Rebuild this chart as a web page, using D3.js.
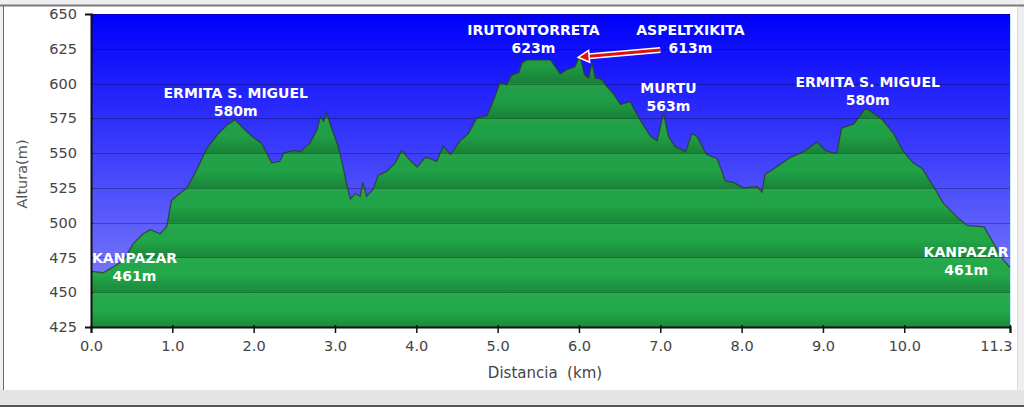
<!DOCTYPE html>
<html>
<head>
<meta charset="utf-8">
<script src="https://cdn.jsdelivr.net/npm/d3@7"></script>
<style>
  html, body { margin: 0; padding: 0; background: #efefef; }
  svg { display: block; }
</style>
</head>
<body>
<svg id="chart" width="1024" height="407"></svg>
<script>
// ---- data ----
const distKm = [0.00,0.01,0.15,0.27,0.40,0.52,0.64,0.73,0.85,0.93,0.99,1.05,1.18,1.30,1.42,1.55,1.67,1.77,1.87,1.98,
  2.10,2.22,2.32,2.37,2.49,2.57,2.69,2.78,2.82,2.86,2.90,2.94,3.04,3.10,3.15,3.19,3.25,3.31,3.34,3.39,
  3.47,3.53,3.64,3.74,3.82,3.92,4.01,4.11,4.17,4.25,4.33,4.42,4.54,4.64,4.74,4.87,4.95,5.03,5.11,5.17,
  5.26,5.30,5.36,5.65,5.77,5.85,5.95,6.01,6.07,6.12,6.16,6.20,6.28,6.34,6.42,6.51,6.63,6.75,6.88,6.96,
  7.04,7.10,7.18,7.31,7.39,7.45,7.57,7.70,7.80,7.90,8.02,8.19,8.25,8.29,8.35,8.45,8.60,8.76,8.93,9.03,
  9.13,9.17,9.23,9.38,9.52,9.59,9.73,9.87,9.99,10.11,10.22,10.36,10.48,10.65,10.77,10.98,11.10,11.22,11.30];
const elevM = [465,465,464,468,473,485,492,495,492,497,516,519,525,538,553,563,570,574,568,562,
  557,543,544,550,552,551,557,567,576,573,579,571,555,540,526,517,521,519,529,519,
  524,534,537,543,552,545,540,547,546,544,555,549,559,564,575,577,588,601,599,606,
  608,615,617,617,607,610,612,620,606,604,615,604,603,598,593,585,587,574,562,559,
  579,562,555,551,564,562,549,546,530,529,525,526,522,535,537,541,547,551,558,552,
  550,550,568,571,582,580,574,564,551,543,539,526,514,504,498,497,485,473,468];

const yTicks = [425,450,475,500,525,550,575,600,625,650];
const xTicks = [0,1,2,3,4,5,6,7,8,9,10,11.3];
const xTickLabels = ["0.0","1.0","2.0","3.0","4.0","5.0","6.0","7.0","8.0","9.0","10.0","11.3"];

const placeNames  = ["KANPAZAR","ERMITA S. MIGUEL","IRUTONTORRETA","ASPELTXIKITA","MURTU","ERMITA S. MIGUEL","KANPAZAR"];
const placeHeights = ["461m","580m","623m","613m","563m","580m","461m"];
const placeKm  = [0.535,1.78,5.44,7.37,7.10,9.55,10.76];
const placeAlt = [471,589.6,634.9,634.9,593.4,597.5,475.3];

const arrowFrom = [7.00,624.1];
const arrowTo   = [5.99,618.9];

const xTitle = "Distancia  (km)";
const yTitle = "Altura(m)";

// ---- layout ----
const L = 91, R = 1010, T = 14, B = 327;
const svg = d3.select("#chart");
const x = d3.scaleLinear().domain([0, 11.3]).range([L, R]);
const y = d3.scaleLinear().domain([425, 650]).range([B, T]);

const defs = svg.append("defs");
const sky = defs.append("linearGradient").attr("id","sky").attr("x1",0).attr("y1",0).attr("x2",0).attr("y2",1);
sky.append("stop").attr("offset","0%").attr("stop-color","#0000fc");
sky.append("stop").attr("offset","100%").attr("stop-color","#8a8cf8");
const grass = defs.append("linearGradient").attr("id","grass").attr("gradientUnits","userSpaceOnUse")
  .attr("x1",0).attr("y1",T).attr("x2",0).attr("y2",B);
grass.append("stop").attr("offset","0%").attr("stop-color","#1e9a42");
grass.append("stop").attr("offset","100%").attr("stop-color","#23ab4b");
const band = defs.append("linearGradient").attr("id","band").attr("x1",0).attr("y1",0).attr("x2",0).attr("y2",1);
band.append("stop").attr("offset","0%").attr("stop-color","#fff").attr("stop-opacity",0.03);
band.append("stop").attr("offset","50%").attr("stop-color","#000").attr("stop-opacity",0.0);
band.append("stop").attr("offset","100%").attr("stop-color","#000").attr("stop-opacity",0.2);

// frame
svg.append("rect").attr("x",0).attr("y",0).attr("width",1024).attr("height",407).attr("fill","#efefef");
svg.append("rect").attr("x",3).attr("y",6).attr("width",1014).attr("height",384).attr("fill","#ffffff");
svg.append("line").attr("x1",0).attr("x2",1024).attr("y1",5.5).attr("y2",5.5).attr("stroke","#7a7a7a").attr("stroke-width",2);
svg.append("line").attr("x1",3.5).attr("x2",3.5).attr("y1",6).attr("y2",390).attr("stroke","#6a6a6a").attr("stroke-width",1);
svg.append("line").attr("x1",1017.5).attr("x2",1017.5).attr("y1",6).attr("y2",390).attr("stroke","#d8d8d8").attr("stroke-width",1);
svg.append("rect").attr("x",0).attr("y",390).attr("width",1024).attr("height",15).attr("fill","#e4e4e4");
svg.append("line").attr("x1",0).attr("x2",1024).attr("y1",406).attr("y2",406).attr("stroke","#555").attr("stroke-width",2);

// plot background
svg.append("rect").attr("x",L).attr("y",T).attr("width",R-L).attr("height",B-T).attr("fill","url(#sky)");
svg.append("line").attr("x1",R+0.5).attr("x2",R+0.5).attr("y1",T).attr("y2",B).attr("stroke","#bfeaf0").attr("stroke-width",1);

// terrain
const pts = distKm.map((d,i)=>[d, elevM[i]]);
const area = d3.area().x(d=>x(d[0])).y0(B).y1(d=>y(d[1]));
const line = d3.line().x(d=>x(d[0])).y(d=>y(d[1]));
defs.append("clipPath").attr("id","terrainClip").append("path").attr("d", area(pts));
svg.append("path").attr("d", area(pts)).attr("fill","url(#grass)");
const bands = svg.append("g").attr("clip-path","url(#terrainClip)");
for (let i = 0; i < yTicks.length-1; i++) {
  const top = y(yTicks[i+1]), bot = y(yTicks[i]);
  bands.append("rect").attr("x",L).attr("width",R-L).attr("y",top).attr("height",bot-top).attr("fill","url(#band)");
}

// gridlines
svg.append("g").selectAll("line").data(yTicks.filter(v=>v>425)).join("line")
  .attr("x1",L).attr("x2",R).attr("y1",d=>Math.round(y(d))+0.5).attr("y2",d=>Math.round(y(d))+0.5)
  .attr("stroke","#000").attr("stroke-opacity",0.28).attr("stroke-width",1);

svg.append("path").attr("d", line(pts)).attr("fill","none").attr("stroke","#2e3a30").attr("stroke-width",1.3).attr("stroke-opacity",0.8);

// axes
const yAxis = d3.axisLeft(y).tickValues(yTicks).tickSize(6).tickPadding(8).tickFormat(d3.format("d"));
const gy = svg.append("g").attr("transform",`translate(${L},0)`).call(yAxis);
const xAxis = d3.axisBottom(x).tickValues(xTicks).tickSize(6).tickPadding(8).tickFormat((d,i)=>xTickLabels[i]);
const gx = svg.append("g").attr("transform",`translate(0,${B})`).call(xAxis);
[gy,gx].forEach(g=>{
  g.select(".domain").attr("stroke","#111").attr("stroke-width",2);
  g.selectAll(".tick line").attr("stroke","#111").attr("stroke-width",1.5);
  g.selectAll(".tick text").attr("fill","#444").style("font-family","'DejaVu Sans', Verdana, sans-serif").style("font-size","14.5px");
});
gx.selectAll(".tick line").attr("y1",-2);
gy.selectAll(".tick line").attr("x2",2);
gx.selectAll(".tick text").filter((d,i)=>i===xTicks.length-1).attr("text-anchor","end").attr("dx","2");

svg.append("text").attr("x",545).attr("y",378).attr("text-anchor","middle")
  .style("font-family","'DejaVu Sans', Verdana, sans-serif").style("font-size","15px").attr("fill","#444")
  .attr("xml:space","preserve").text(xTitle);
svg.append("text").attr("transform","translate(27,174) rotate(-90)").attr("text-anchor","middle")
  .style("font-family","'DejaVu Sans', Verdana, sans-serif").style("font-size","14.5px").attr("fill","#555").text(yTitle);

// arrow
const ax1 = x(arrowFrom[0]), ay1 = y(arrowFrom[1]), ax2 = x(arrowTo[0]), ay2 = y(arrowTo[1]);
const ang = Math.atan2(ay2-ay1, ax2-ax1);
const headLen = 11, headW = 6;
const bx = ax2 - headLen*Math.cos(ang), by = ay2 - headLen*Math.sin(ang);
const px = -Math.sin(ang), py = Math.cos(ang);
svg.append("line").attr("x1",ax1).attr("y1",ay1).attr("x2",bx).attr("y2",by).attr("stroke","#fff").attr("stroke-width",6);
svg.append("line").attr("x1",ax1).attr("y1",ay1).attr("x2",bx).attr("y2",by).attr("stroke","#e01010").attr("stroke-width",3);
svg.append("path").attr("d",`M${ax2},${ay2}L${bx+px*headW},${by+py*headW}L${bx-px*headW},${by-py*headW}Z`)
  .attr("fill","#e01010").attr("stroke","#fff").attr("stroke-width",1.5).attr("stroke-linejoin","miter");

// place labels
const lbl = svg.append("g").style("font-family","'DejaVu Sans', Verdana, sans-serif").style("font-size","14px")
  .style("font-weight","bold").attr("fill","#ffffff").attr("text-anchor","middle");
placeNames.forEach((n,i)=>{
  lbl.append("text").attr("x",x(placeKm[i])).attr("y",y(placeAlt[i])).text(n);
  lbl.append("text").attr("x",x(placeKm[i])).attr("y",y(placeAlt[i])+18).text(placeHeights[i]);
});
</script>
</body>
</html>
